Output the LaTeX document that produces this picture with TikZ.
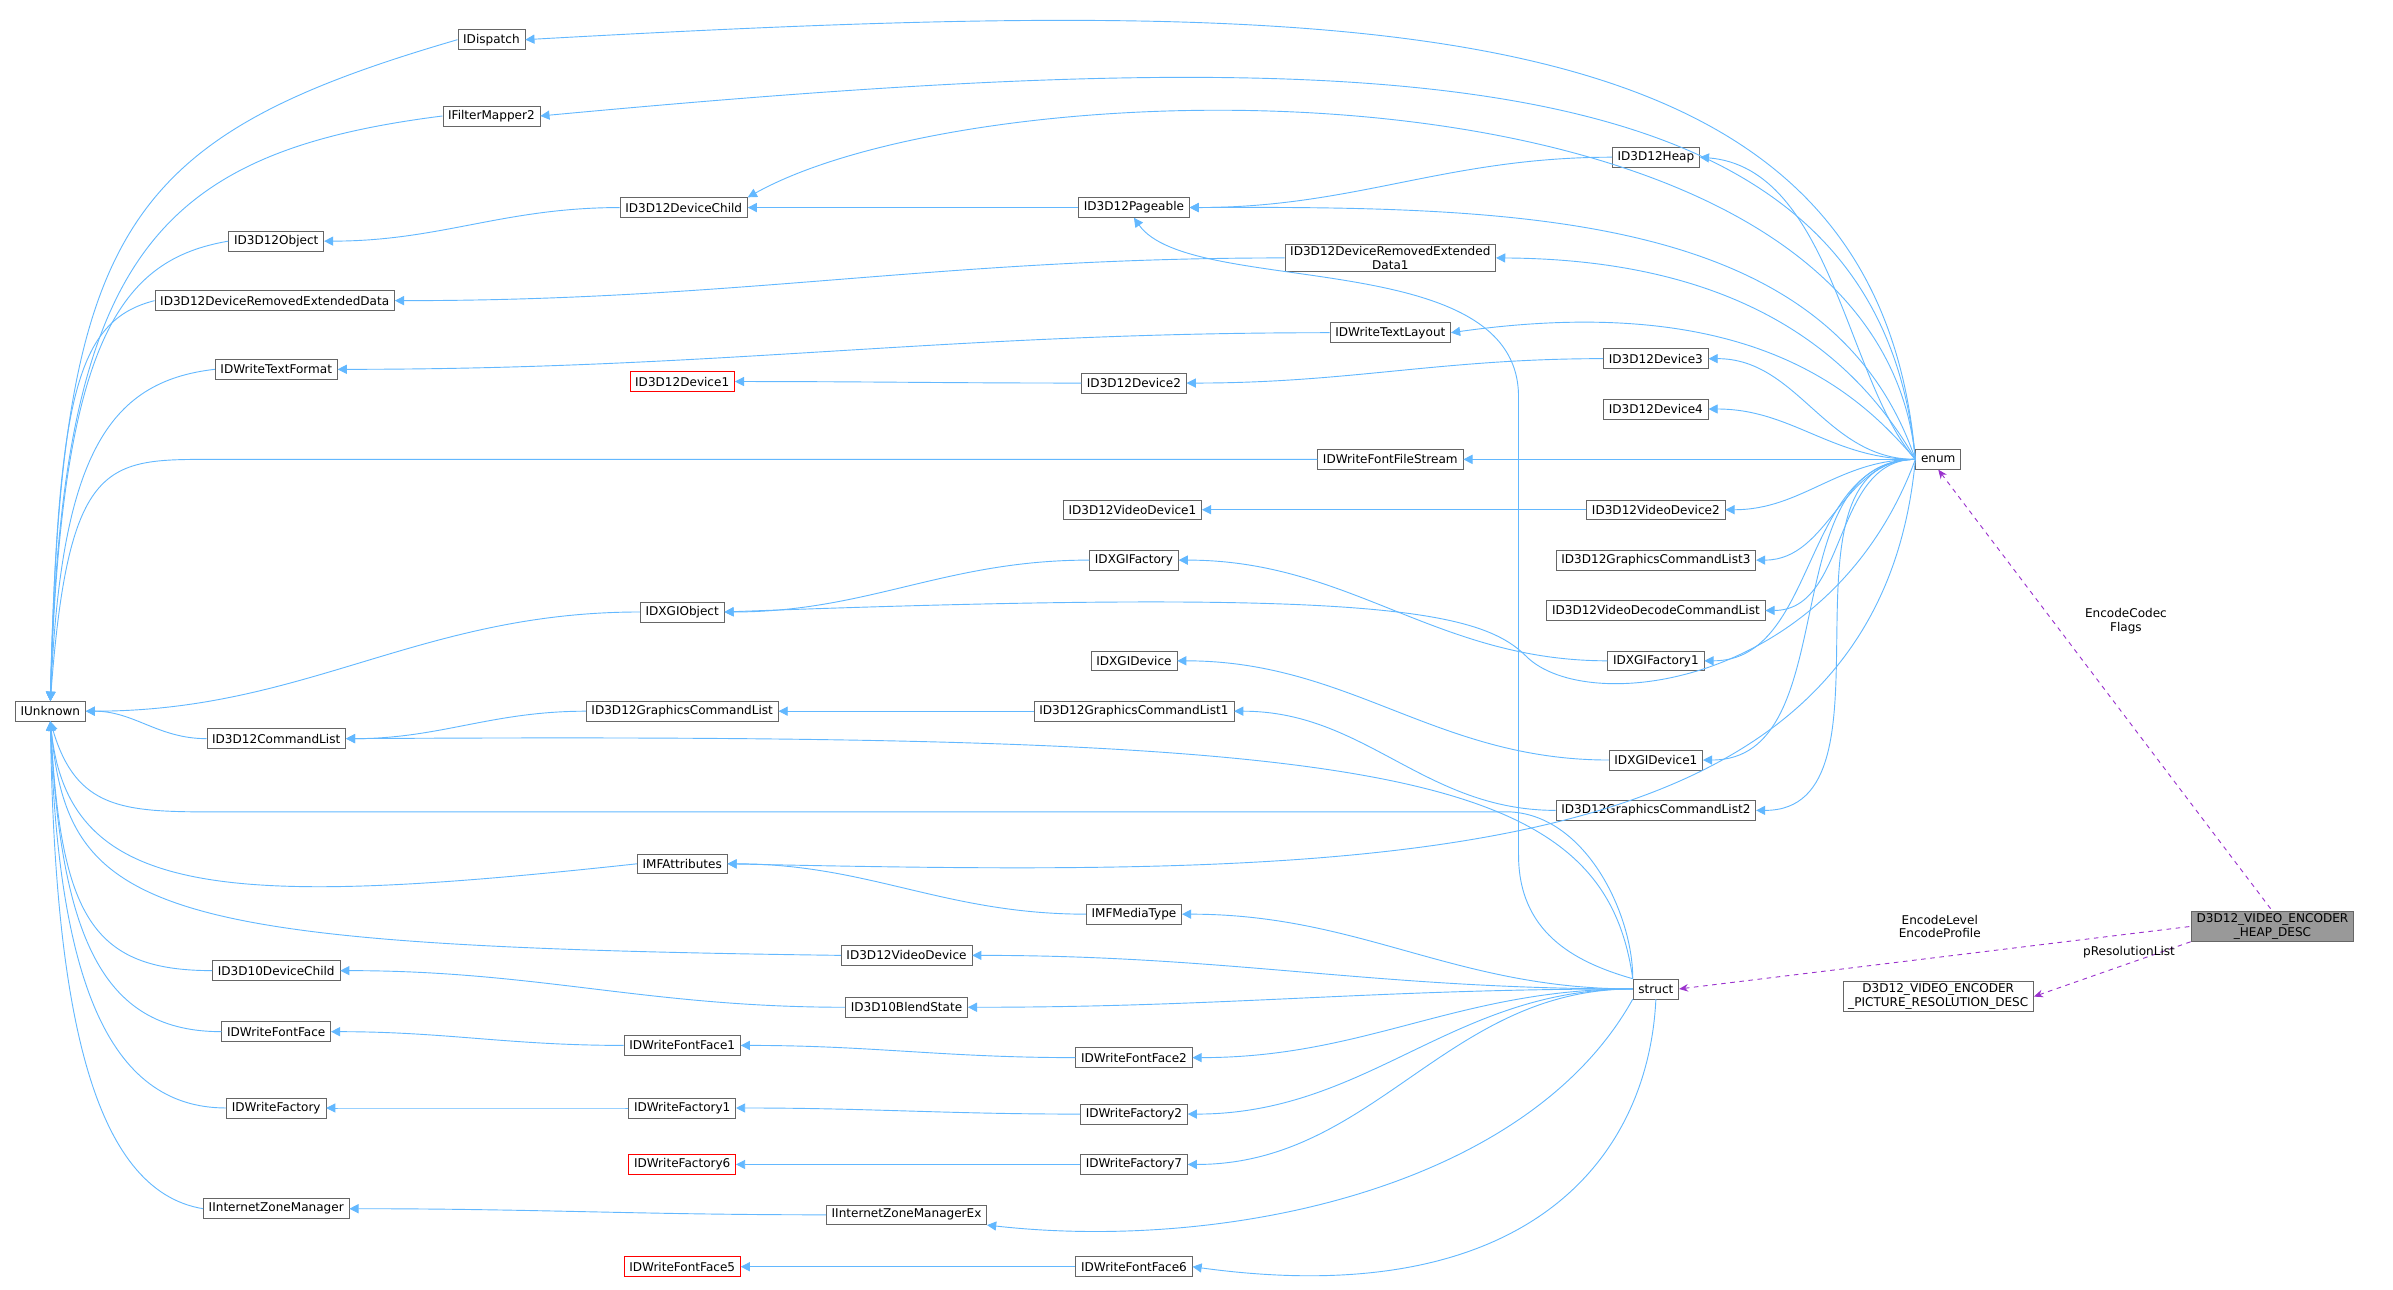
\documentclass[tikz,border=0pt]{standalone}
\usepackage{fontspec}
\setmainfont{DejaVu Sans}
\usetikzlibrary{arrows.meta,calc}
\definecolor{inhblue}{RGB}{99,184,255}
\definecolor{usepurple}{RGB}{154,50,205}
\newcommand{\inh}[2]{\draw[inh] (#1.east) to[out=0,in=180] (#2.west);}

\begin{document}
\begin{tikzpicture}[x=1pt,y=-1pt,
      cls/.style={draw=black!60, fill=white, font=\fontsize{7.9}{8.9}\selectfont,
            inner xsep=3.5pt, inner ysep=1.5pt, minimum height=13pt, text=black},
      bad/.style={cls, draw=red},
      sel/.style={cls, fill=black!40, align=center},
      inh/.style={draw=inhblue, line width=0.6pt, {Triangle[length=6pt,width=6pt,fill=inhblue]}-},
      dep/.style={draw=usepurple, dashed, line width=0.6pt, {Stealth[length=6pt,width=5pt]}-},
      lbl/.style={font=\fontsize{7.9}{8.9}\selectfont, align=center}
      ]
    \useasboundingbox (0,0) rectangle (1568,845);
    % left column
    \node[cls] (IUnknown) at (33,466) {IUnknown};
    \node[cls] (IDispatch) at (322,26) {IDispatch};
    \node[cls] (IFilterMapper2) at (322,76) {IFilterMapper2};
    \node[cls] (ID3D12Object) at (181,158) {ID3D12Object};
    \node[cls] (DRED) at (180,197) {ID3D12DeviceRemovedExtendedData};
    \node[cls] (IDWriteTextFormat) at (181,242) {IDWriteTextFormat};
    \node[cls] (ID3D12CommandList) at (181,484) {ID3D12CommandList};
    \node[cls] (ID3D10DeviceChild) at (181,636) {ID3D10DeviceChild};
    \node[cls] (IDWriteFontFace) at (181,676) {IDWriteFontFace};
    \node[cls] (IDWriteFactory) at (181,726) {IDWriteFactory};
    \node[cls] (IInternetZoneManager) at (181,792) {IInternetZoneManager};
    % second column
    \node[cls] (ID3D12DeviceChild) at (448,136) {ID3D12DeviceChild};
    \node[bad] (ID3D12Device1) at (447,250) {ID3D12Device1};
    \node[cls] (IDXGIObject) at (447,401) {IDXGIObject};
    \node[cls] (GCL) at (447,466) {ID3D12GraphicsCommandList};
    \node[cls] (IMFAttributes) at (447,566) {IMFAttributes};
    \node[cls] (IDWriteFontFace1) at (447,685) {IDWriteFontFace1};
    \node[cls] (IDWriteFactory1) at (447,726) {IDWriteFactory1};
    \node[bad] (IDWriteFactory6) at (447,763) {IDWriteFactory6};
    \node[bad] (IDWriteFontFace5) at (447,830) {IDWriteFontFace5};
    \node[cls] (ID3D12VideoDevice) at (594,626) {ID3D12VideoDevice};
    \node[cls] (ID3D10BlendState) at (594,660) {ID3D10BlendState};
    \node[cls] (IZMEx) at (594,796) {IInternetZoneManagerEx};
    % third column
    \node[cls] (ID3D12Pageable) at (743,136) {ID3D12Pageable};
    \node[cls] (ID3D12Device2) at (743,251) {ID3D12Device2};
    \node[cls] (ID3D12VideoDevice1) at (742,334) {ID3D12VideoDevice1};
    \node[cls] (IDXGIFactory) at (743,367) {IDXGIFactory};
    \node[cls] (IDXGIDevice) at (743,433) {IDXGIDevice};
    \node[cls] (GCL1) at (743,466) {ID3D12GraphicsCommandList1};
    \node[cls] (IMFMediaType) at (743,599) {IMFMediaType};
    \node[cls] (IDWriteFontFace2) at (743,693) {IDWriteFontFace2};
    \node[cls] (IDWriteFactory2) at (743,730) {IDWriteFactory2};
    \node[cls] (IDWriteFactory7) at (743,763) {IDWriteFactory7};
    \node[cls] (IDWriteFontFace6) at (743,830) {IDWriteFontFace6};
    % fourth column
    \node[cls, align=center] (DRED1) at (911,169) {ID3D12DeviceRemovedExtended\\Data1};
    \node[cls] (IDWriteTextLayout) at (911,218) {IDWriteTextLayout};
    \node[cls] (IDWriteFontFileStream) at (911,301) {IDWriteFontFileStream};
    \node[cls] (ID3D12Heap) at (1085,103) {ID3D12Heap};
    \node[cls] (ID3D12Device3) at (1085,235) {ID3D12Device3};
    \node[cls] (ID3D12Device4) at (1085,268) {ID3D12Device4};
    \node[cls] (ID3D12VideoDevice2) at (1085,334) {ID3D12VideoDevice2};
    \node[cls] (GCL3) at (1085,367) {ID3D12GraphicsCommandList3};
    \node[cls] (VDCL) at (1085,400) {ID3D12VideoDecodeCommandList};
    \node[cls] (IDXGIFactory1) at (1085,433) {IDXGIFactory1};
    \node[cls] (IDXGIDevice1) at (1085,498) {IDXGIDevice1};
    \node[cls] (GCL2) at (1085,531) {ID3D12GraphicsCommandList2};
    \node[cls] (struct) at (1085,648) {struct};
    \node[cls] (enum) at (1270,301) {enum};
    \node[cls, align=center] (PRDESC) at (1270,653) {D3D12\_VIDEO\_ENCODER\\\_PICTURE\_RESOLUTION\_DESC};
    \node[sel] (HEAPDESC) at (1489,607) {D3D12\_VIDEO\_ENCODER\\\_HEAP\_DESC};

    % IUnknown children
    \draw[inh] (IUnknown.north) .. controls (40,150) and (80,90) .. (IDispatch.west);
    \draw[inh] (IUnknown.north) .. controls (40,170) and (100,100) .. (IFilterMapper2.west);
    \draw[inh] (IUnknown.north) .. controls (40,220) and (80,170) .. (ID3D12Object.west);
    \draw[inh] (IUnknown.north) .. controls (38,260) and (50,210) .. (DRED.west);
    \draw[inh] (IUnknown.north) .. controls (40,300) and (70,250) .. (IDWriteTextFormat.west);
    \draw[inh] (IUnknown.north) .. controls (45,300) and (70,301) .. (140,301) -- (IDWriteFontFileStream.west);
    \inh{IUnknown}{IDXGIObject}
    \draw[inh] (IUnknown.south) .. controls (50,530) and (80,532) .. (140,532) -- (990,532) .. controls (1040,535) and (1070,600) .. (struct.north west);
    \draw[inh] (IUnknown.south) .. controls (45,590) and (150,595) .. (IMFAttributes.west);
    \draw[inh] (IUnknown.south) .. controls (45,600) and (100,620) .. (ID3D12VideoDevice.west);
    \draw[inh] (IUnknown.south) .. controls (40,600) and (60,636) .. (ID3D10DeviceChild.west);
    \draw[inh] (IUnknown.south) .. controls (40,620) and (70,676) .. (IDWriteFontFace.west);
    \draw[inh] (IUnknown.south) .. controls (38,640) and (70,726) .. (IDWriteFactory.west);
    \draw[inh] (IUnknown.south) .. controls (36,660) and (60,780) .. (IInternetZoneManager.west);
    \inh{IUnknown}{ID3D12CommandList}
    % chains
    \inh{ID3D12Object}{ID3D12DeviceChild}
    \inh{ID3D12DeviceChild}{ID3D12Pageable}
    \inh{ID3D12Pageable}{ID3D12Heap}
    \inh{DRED}{DRED1}
    \inh{IDWriteTextFormat}{IDWriteTextLayout}
    \inh{ID3D12Device1}{ID3D12Device2}
    \inh{ID3D12Device2}{ID3D12Device3}
    \inh{ID3D12VideoDevice1}{ID3D12VideoDevice2}
    \inh{IDXGIObject}{IDXGIFactory}
    \inh{IDXGIFactory}{IDXGIFactory1}
    \inh{IDXGIDevice}{IDXGIDevice1}
    \inh{ID3D12CommandList}{GCL}
    \inh{GCL}{GCL1}
    \inh{GCL1}{GCL2}
    \inh{IMFAttributes}{IMFMediaType}
    \inh{ID3D10DeviceChild}{ID3D10BlendState}
    \inh{IDWriteFontFace}{IDWriteFontFace1}
    \inh{IDWriteFontFace1}{IDWriteFontFace2}
    \inh{IDWriteFactory}{IDWriteFactory1}
    \inh{IDWriteFactory1}{IDWriteFactory2}
    \inh{IDWriteFactory6}{IDWriteFactory7}
    \inh{IInternetZoneManager}{IZMEx}
    \inh{IDWriteFontFace5}{IDWriteFontFace6}
    % enum
    \draw[inh] (IDispatch.east) .. controls (900,-5) and (1230,0) .. (enum.west);
    \draw[inh] (IFilterMapper2.east) .. controls (900,25) and (1230,30) .. (enum.west);
    \draw[inh] (ID3D12DeviceChild.north east) .. controls (650,40) and (1230,30) .. (enum.west);
    \draw[inh] (ID3D12Pageable.east) .. controls (1000,135) and (1200,140) .. (enum.west);
    \draw[inh] (ID3D12Heap.east) .. controls (1200,110) and (1210,250) .. (enum.west);
    \draw[inh] (DRED1.east) .. controls (1150,170) and (1220,240) .. (enum.west);
    \draw[inh] (IDWriteTextLayout.east) .. controls (1150,190) and (1220,260) .. (enum.west);
    \inh{ID3D12Device3}{enum}
    \inh{ID3D12Device4}{enum}
    \draw[inh] (IDWriteFontFileStream.east) -- (enum.west);
    \inh{ID3D12VideoDevice2}{enum}
    \inh{GCL3}{enum}
    \inh{VDCL}{enum}
    \inh{IDXGIFactory1}{enum}
    \inh{IDXGIDevice1}{enum}
    \inh{GCL2}{enum}
    \draw[inh] (IDXGIObject.east) .. controls (900,385) and (970,400) .. (1000,430) .. controls (1040,470) and (1200,450) .. (enum.west);
    \draw[inh] (IMFAttributes.east) .. controls (900,575) and (1230,575) .. (enum.west);
    % struct
    \draw[inh] (ID3D12Pageable.south) .. controls (780,195) and (995,160) .. (995,260) -- (995,560) .. controls (995,610) and (1030,630) .. (struct.north west);
    \draw[inh] (ID3D12CommandList.east) .. controls (900,480) and (1050,500) .. (struct.north west);
    \inh{IMFMediaType}{struct}
    \inh{ID3D12VideoDevice}{struct}
    \inh{ID3D10BlendState}{struct}
    \inh{IDWriteFontFace2}{struct}
    \inh{IDWriteFactory2}{struct}
    \inh{IDWriteFactory7}{struct}
    \draw[inh] (IZMEx.south east) .. controls (800,820) and (1000,780) .. (struct.south west);
    \draw[inh] (IDWriteFontFace6.east) .. controls (1000,860) and (1080,760) .. (struct.south);
    % usage
    \draw[dep] (enum.south) -- (HEAPDESC.north);
    \draw[dep] (struct.east) -- (HEAPDESC.west);
    \draw[dep] (PRDESC.east) -- (HEAPDESC.south west);
    \node[lbl] (lcodec) at (1393,407) {EncodeCodec\\Flags};
    \node[lbl] (llevel) at (1271,607) {EncodeLevel\\EncodeProfile};
    \node[lbl] (lres) at (1395,624) {pResolutionList};
\end{tikzpicture}
\end{document}
